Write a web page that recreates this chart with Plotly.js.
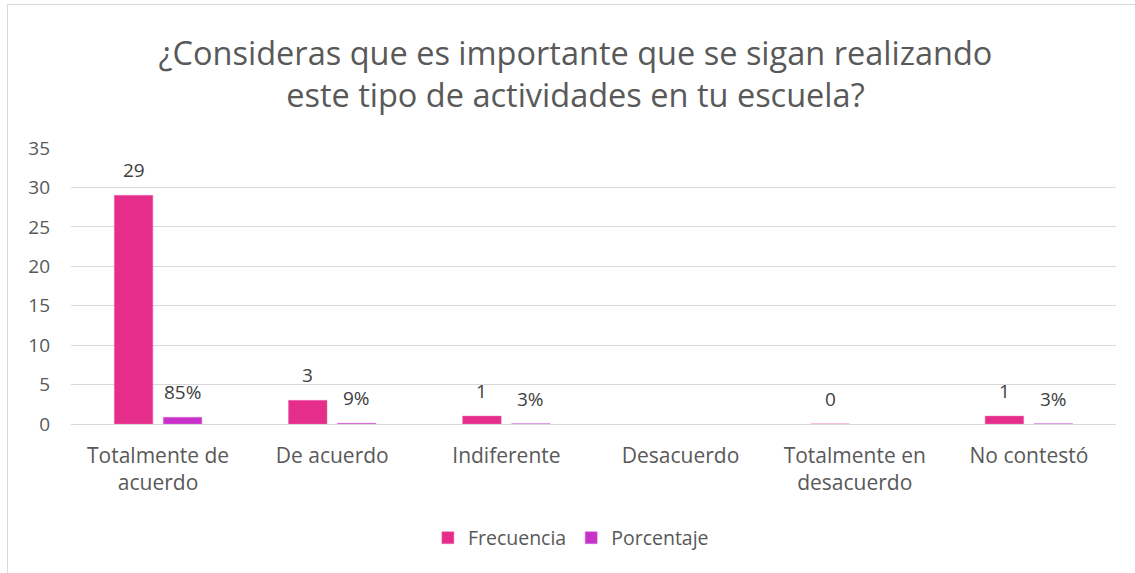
<!DOCTYPE html>
<html>
<head>
<meta charset="utf-8">
<script src="https://cdn.plot.ly/plotly-3.0.1.min.js"></script>
<style>
  html, body { margin: 0; padding: 0; background: #ffffff; }
  #frame { position: absolute; left: 7px; top: 4px; width: 1128px; height: 569px;
           border-left: 1px solid #D9D9D9; border-top: 1px solid #D9D9D9; box-sizing: border-box; }
  #chart { position: absolute; left: 0; top: 0; width: 1135px; height: 573px; }
</style>
</head>
<body>
<div id="frame"></div>
<div id="chart"></div>
<script>
const categories = ['Totalmente de<br>acuerdo', 'De acuerdo', 'Indiferente', 'Desacuerdo', 'Totalmente en<br>desacuerdo', 'No contestó'];
const frecuencia = [29, 3, 1, null, 0, 1];
const porcentaje = [0.85, 0.09, 0.03, null, null, 0.03];
const yTicks = [0, 5, 10, 15, 20, 25, 30, 35];

const FONT = 'Open Sans, sans-serif';
const colFrec = '#E52E8C';
const colPorc = '#C832C8';

const traces = [
  { type: 'bar', name: 'Frecuencia', x: categories, y: frecuencia,
    marker: { color: colFrec, line: { color: '#F06AB0', width: 0.5 } }, hoverinfo: 'skip' },
  { type: 'bar', name: 'Porcentaje', x: categories, y: porcentaje,
    marker: { color: colPorc, line: { color: '#D870D8', width: 0.5 } }, hoverinfo: 'skip' }
];

const annotations = [];
categories.forEach((c, i) => {
  if (frecuencia[i] !== null) {
    annotations.push({ x: c, y: frecuencia[i], xref: 'x', yref: 'y', text: String(frecuencia[i]),
      showarrow: false, xshift: -24.5, yshift: 25, yanchor: 'middle',
      font: { family: FONT, size: 19, color: '#404040' } });
  }
  if (porcentaje[i] !== null) {
    annotations.push({ x: c, y: porcentaje[i], xref: 'x', yref: 'y', text: Math.round(porcentaje[i] * 100) + '%',
      showarrow: false, xshift: 24.5, yshift: 25, yanchor: 'middle',
      font: { family: FONT, size: 19, color: '#404040' } });
  }
});

const layout = {
  width: 1135, height: 573,
  paper_bgcolor: 'rgba(0,0,0,0)', plot_bgcolor: 'rgba(0,0,0,0)',
  margin: { l: 71, r: 19, t: 148, b: 149, pad: 0 },
  font: { family: FONT, color: '#595959' },
  title: {
    text: '¿Consideras que es importante que se sigan realizando<br>este tipo de actividades en tu escuela?',
    font: { family: FONT, size: 32.5, color: '#595959' },
    x: 0.507, xref: 'container', xanchor: 'center',
    y: 0.887, yref: 'container', yanchor: 'middle'
  },
  barmode: 'group', bargap: 0.437, bargroupgap: 0.214,
  xaxis: {
    type: 'category', showgrid: false, zeroline: false, showline: false, ticks: '',
    ticklabelstandoff: 17,
    tickfont: { family: FONT, size: 21, color: '#595959' }, fixedrange: true
  },
  yaxis: {
    range: [0, 35], tickvals: yTicks, ticktext: yTicks.map(String),
    showgrid: true, gridcolor: '#D9D9D9', gridwidth: 1,
    zeroline: true, zerolinecolor: '#D9D9D9', zerolinewidth: 1,
    showline: false, ticks: '', ticklabelstandoff: 20,
    tickfont: { family: FONT, size: 19, color: '#595959' }, fixedrange: true
  },
  showlegend: true,
  legend: {
    orientation: 'h', x: 0.503, xref: 'container', xanchor: 'center',
    y: 0.061, yref: 'container', yanchor: 'middle',
    font: { family: FONT, size: 19.5, color: '#595959' },
    itemwidth: 30, bgcolor: 'rgba(0,0,0,0)'
  },
  annotations: annotations
};

Plotly.newPlot('chart', traces, layout, { staticPlot: true, displayModeBar: false });
</script>
</body>
</html>
